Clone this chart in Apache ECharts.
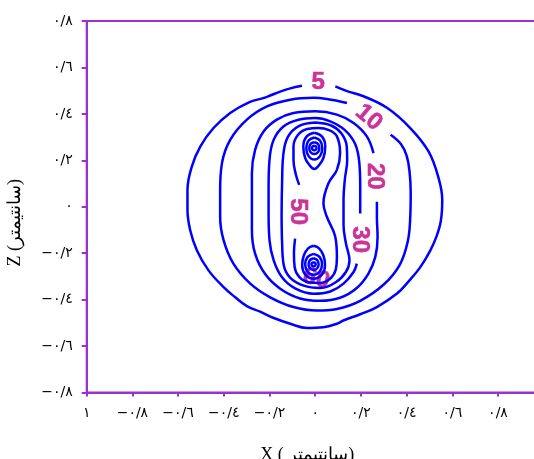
<!DOCTYPE html>
<html>
<head>
<meta charset="utf-8">
<script src="https://cdn.jsdelivr.net/npm/echarts@6/dist/echarts.min.js"></script>
<style>
html,body{margin:0;padding:0;background:#fff;}
#chart{width:534px;height:459px;}
</style>
</head>
<body>
<div id="chart"></div>
<script>
// Tick labels (Persian / Arabic-Indic digits)
const xTickLabels = ['١','−٠/٨','−٠/٦','−٠/٤','−٠/٢','٠','٠/٢','٠/٤','٠/٦','٠/٨','١'];
const yTickLabels = ['−٠/٨','−٠/٦','−٠/٤','−٠/٢','٠','٠/٢','٠/٤','٠/٦','٠/٨'];

// Contour lines, [x, z] in cm
const contour5 = [[0.088,0.518],[0.139,0.498],[0.211,0.476],[0.314,0.426],[0.416,0.339],[0.496,0.238],[0.54,0.123],[0.556,0.03],[0.55,-0.06],[0.53,-0.13],[0.503,-0.19],[0.46,-0.26],[0.41,-0.32],[0.358,-0.374],[0.27,-0.432],[0.197,-0.463],[0.123,-0.49],[0.095,-0.504],[0.035,-0.519],[-0.036,-0.522],[-0.109,-0.504],[-0.184,-0.478],[-0.241,-0.452],[-0.299,-0.428],[-0.35,-0.39],[-0.401,-0.346],[-0.467,-0.274],[-0.518,-0.187],[-0.547,-0.101],[-0.559,-0.014],[-0.559,0.072],[-0.54,0.173],[-0.503,0.259],[-0.445,0.339],[-0.372,0.404],[-0.29,0.45],[-0.228,0.468],[-0.197,0.479],[-0.153,0.496],[-0.109,0.51],[-0.058,0.521]];
const contour10 = [[0.33,0.31],[0.375,0.27],[0.4,0.22],[0.413,0.15],[0.418,0.06],[0.416,-0.043],[0.405,-0.15],[0.37,-0.25],[0.3,-0.335],[0.197,-0.405],[0.095,-0.44],[0.007,-0.447],[-0.095,-0.432],[-0.197,-0.39],[-0.284,-0.331],[-0.358,-0.245],[-0.401,-0.144],[-0.416,-0.043],[-0.416,0.072],[-0.408,0.188],[-0.372,0.288],[-0.299,0.375],[-0.211,0.432],[-0.109,0.461],[-0.007,0.469],[0.051,0.464],[0.139,0.447]];
const contour20 = [[0.27,0.022],[0.27,-0.043],[0.273,-0.13],[0.263,-0.216],[0.233,-0.288],[0.182,-0.35],[0.109,-0.392],[0.022,-0.405],[-0.066,-0.395],[-0.153,-0.353],[-0.219,-0.29],[-0.263,-0.202],[-0.277,-0.101],[-0.277,0.015],[-0.277,0.144],[-0.263,0.245],[-0.226,0.324],[-0.168,0.375],[-0.095,0.404],[0,0.411],[0.095,0.397],[0.168,0.361],[0.226,0.303],[0.255,0.231]];
const contour30 = [[0.182,-0.245],[0.168,-0.281],[0.124,-0.331],[0.066,-0.365],[-0.007,-0.375],[-0.088,-0.352],[-0.146,-0.303],[-0.182,-0.23],[-0.2,-0.144],[-0.204,-0.029],[-0.204,0.086],[-0.2,0.202],[-0.182,0.288],[-0.139,0.346],[-0.073,0.375],[0,0.382],[0.066,0.368],[0.13,0.33],[0.175,0.27],[0.193,0.19],[0.197,0.086],[0.197,-0.029]];
const contour40 = [[0,0.363],[0.07,0.35],[0.115,0.315],[0.138,0.26],[0.14,0.2],[0.13,0.12],[0.124,0.03],[0.124,-0.08],[0.135,-0.16],[0.15,-0.23],[0.135,-0.28],[0.09,-0.325],[0.02,-0.35],[-0.05,-0.34],[-0.11,-0.305],[-0.138,-0.25],[-0.145,-0.15],[-0.147,-0.03],[-0.145,0.1],[-0.14,0.22],[-0.12,0.3],[-0.07,0.348],[0,0.363]];
const contour50 = [[-0.088,-0.137],[-0.093,-0.2],[-0.09,-0.26],[-0.07,-0.302],[-0.03,-0.325],[0.02,-0.328],[0.065,-0.31],[0.09,-0.27],[0.095,-0.216],[0.088,-0.13],[0.051,-0.043],[0.036,0.015],[0.058,0.101],[0.095,0.159],[0.109,0.231],[0.095,0.303],[0.06,0.33],[0.015,0.339],[-0.035,0.335],[-0.075,0.31],[-0.095,0.26],[-0.095,0.2],[-0.085,0.14],[-0.07,0.094]];
const upperRingA = [[-0.004,0.263],[0.003,0.26],[0.006,0.253],[0.003,0.246],[-0.004,0.243],[-0.011,0.246],[-0.014,0.253],[-0.011,0.26],[-0.004,0.263]];
const upperRingB = [[-0.004,0.278],[0.012,0.271],[0.018,0.253],[0.012,0.235],[-0.004,0.227],[-0.02,0.235],[-0.026,0.253],[-0.02,0.271],[-0.004,0.278]];
const upperRingC = [[-0.004,0.298],[0.021,0.285],[0.031,0.253],[0.021,0.218],[-0.004,0.203],[-0.029,0.218],[-0.039,0.253],[-0.029,0.285],[-0.004,0.298]];
const upperRingD = [[-0.004,0.319],[0.03,0.302],[0.044,0.26],[0.036,0.21],[0.016,0.178],[-0.004,0.163],[-0.024,0.178],[-0.044,0.21],[-0.052,0.26],[-0.038,0.302],[-0.004,0.319]];
const lowerRingA = [[-0.007,-0.239],[0,-0.242],[0.002,-0.248],[0,-0.254],[-0.007,-0.257],[-0.014,-0.254],[-0.016,-0.248],[-0.014,-0.242],[-0.007,-0.239]];
const lowerRingB = [[-0.007,-0.222],[0.009,-0.23],[0.015,-0.248],[0.009,-0.265],[-0.007,-0.272],[-0.023,-0.265],[-0.029,-0.248],[-0.023,-0.23],[-0.007,-0.222]];
const lowerRingC = [[-0.007,-0.203],[0.019,-0.216],[0.03,-0.248],[0.019,-0.28],[-0.007,-0.293],[-0.033,-0.28],[-0.044,-0.248],[-0.033,-0.216],[-0.007,-0.203]];
const lowerRingD = [[-0.007,-0.168],[0.018,-0.18],[0.036,-0.21],[0.043,-0.25],[0.031,-0.29],[-0.007,-0.31],[-0.045,-0.29],[-0.057,-0.25],[-0.05,-0.21],[-0.032,-0.18],[-0.007,-0.168]];

// Contour labels
const labelTexts = ['5','10','20','30','50','60'];
const labelX = [0.013,0.234,0.258,0.193,-0.079,0.004];
const labelY = [0.535,0.384,0.131,-0.142,-0.021,-0.31];
const labelAngle = [0,-40,-90,-90,-90,-15];

const contours = [contour5,contour10,contour20,contour30,contour40,contour50,
  upperRingA,upperRingB,upperRingC,upperRingD,lowerRingA,lowerRingB,lowerRingC,lowerRingD];

const purple = '#9933cc';
const labelColor = '#cc3399';
const chart = echarts.init(document.getElementById('chart'), null, {renderer:'canvas'});
const series = contours.map(c => ({
  type:'line', data:c, smooth:0.4, showSymbol:false, symbol:'none', silent:true,
  lineStyle:{color:'#0000ff', width:2.5}, z:3, clip:false
}));
series.push({
  type:'scatter', z:1, silent:true, symbolSize:2, itemStyle:{color:'rgba(0,0,0,0)'},
  data: labelX.map((x,i)=>({value:[x,labelY[i]], label:{
    show:true, position:'inside', formatter:labelTexts[i], rotate:labelAngle[i],
    color:labelColor, opacity:1, fontSize:24, fontWeight:'bold',
    fontFamily:'"Liberation Sans", Arial, sans-serif', textBorderWidth:0.6, textBorderColor:labelColor}}))
});

chart.setOption({
  animation:false,
  grid:{left:86.7, right:-9.7, top:21, bottom:66.5, containLabel:false, outerBoundsMode:'none',
        show:true, borderColor:purple, borderWidth:2, backgroundColor:'transparent'},
  xAxis:{
    type:'value', min:-1, max:1, interval:0.2,
    axisLine:{onZero:false, lineStyle:{color:purple, width:2}},
    axisTick:{show:true, length:4, lineStyle:{color:purple, width:2}},
    splitLine:{show:false},
    axisLabel:{color:'#000', fontSize:14, fontFamily:'DejaVu Sans', margin:14,
      formatter:(v,i)=>xTickLabels[Math.round((v+1)/0.2)]},
    name:'X ( سانتیمتر)', nameLocation:'middle', nameGap:54,
    nameTextStyle:{color:'#000', fontSize:18, fontFamily:'Liberation Serif, DejaVu Serif, serif', padding:[0,16,0,0]}
  },
  yAxis:{
    type:'value', min:-0.8, max:0.8, interval:0.2,
    axisLine:{onZero:false, lineStyle:{color:purple, width:2}},
    axisTick:{show:true, length:5, lineStyle:{color:purple, width:2}},
    splitLine:{show:false},
    axisLabel:{color:'#000', fontSize:14, fontFamily:'DejaVu Sans', margin:14,
      formatter:(v,i)=>yTickLabels[Math.round((v+0.8)/0.2)]},
    name:'Z (سانتیمتر)', nameLocation:'middle', nameGap:62,
    nameTextStyle:{color:'#000', fontSize:18, fontFamily:'Liberation Serif, DejaVu Serif, serif', padding:[0,32,0,0]}
  },
  series:series
});
</script>
</body>
</html>
